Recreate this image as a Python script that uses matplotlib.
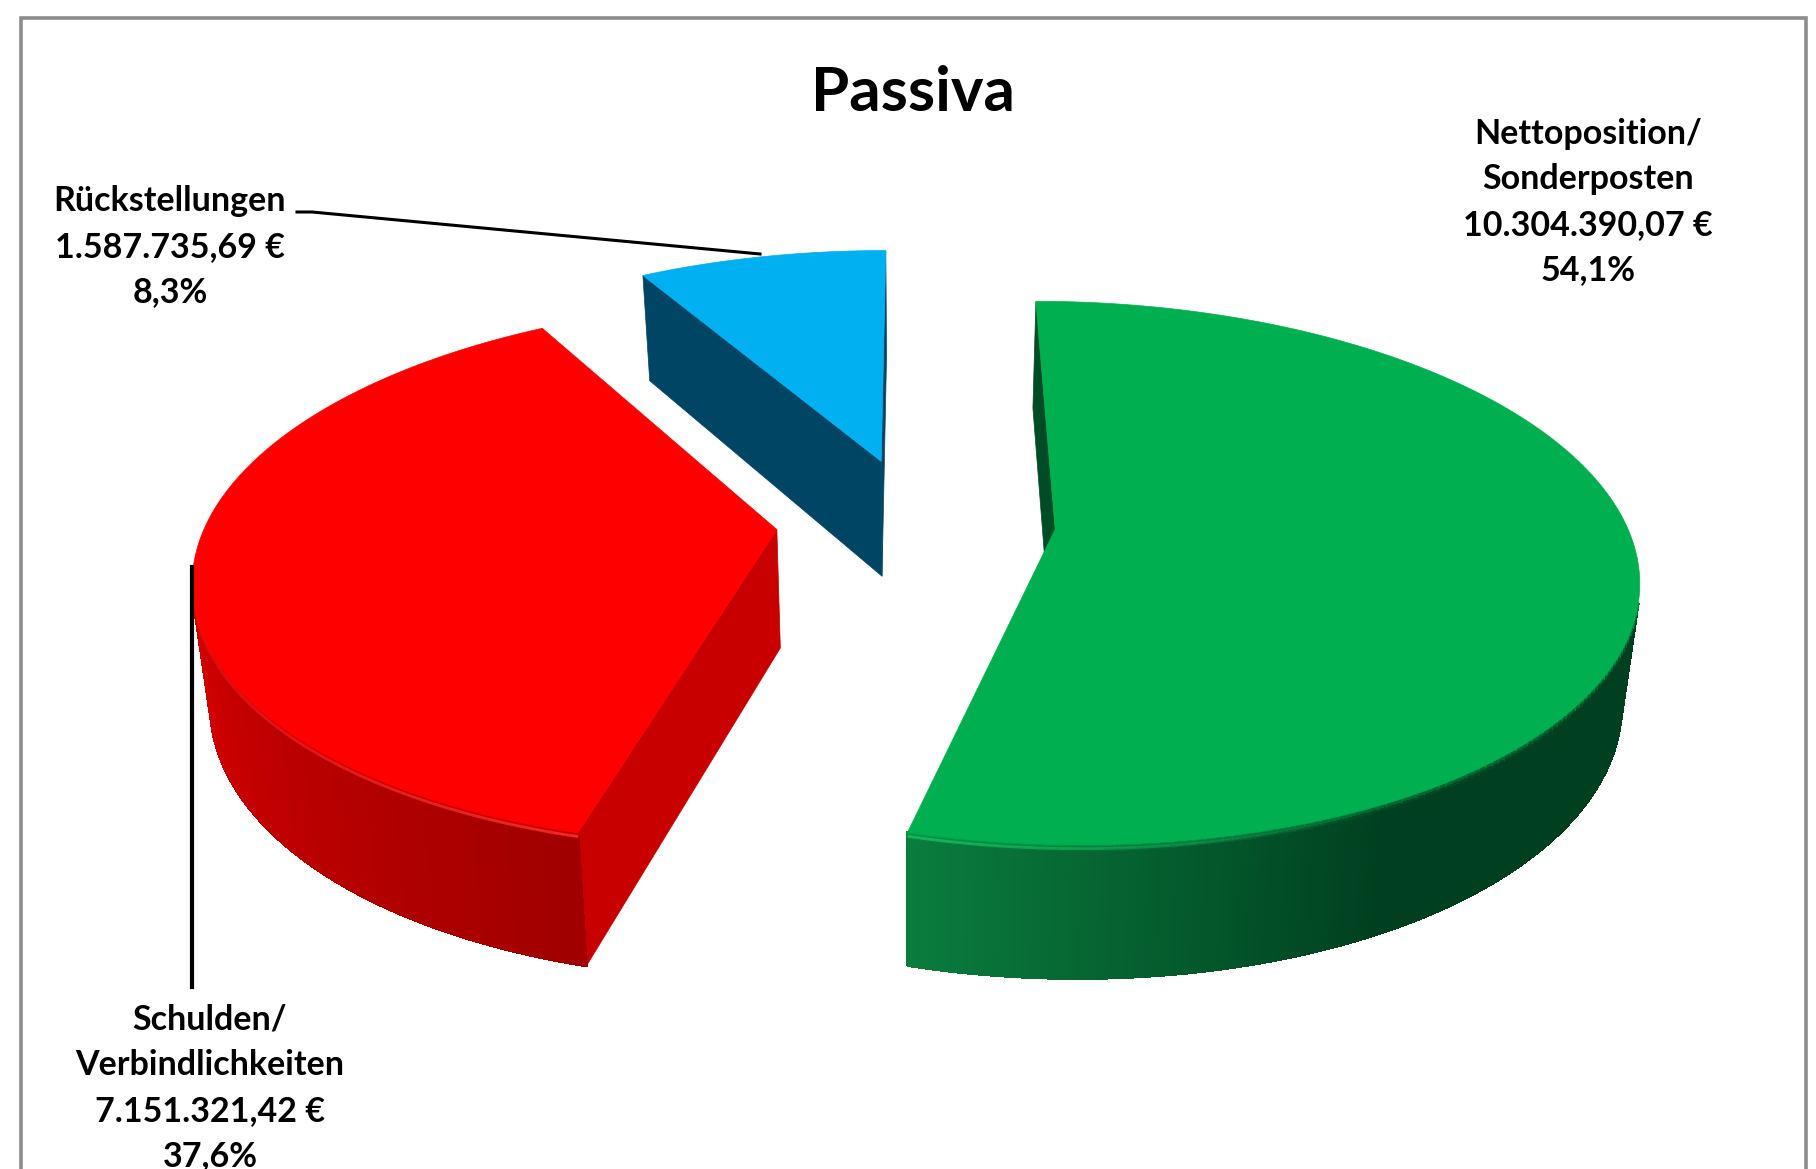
import numpy as np
import matplotlib
matplotlib.use("Agg")
import matplotlib.pyplot as plt
from matplotlib.collections import PolyCollection, LineCollection
from matplotlib.patches import Polygon

plt.rcParams['font.family'] = ['Lato', 'DejaVu Sans']

# data
names = ["Nettoposition", "Schulden", "Rückstellungen"]
values = [10304390.07, 7151321.42, 1587735.69]
labels = ["Nettoposition/\nSonderposten\n10.304.390,07 €\n54,1%",
          "Schulden/\nVerbindlichkeiten\n7.151.321,42 €\n37,6%",
          "Rückstellungen\n1.587.735,69 €\n8,3%"]
top_colors = ["#00B050", "#FF0000", "#00B0F0"]
face_colors = ["#004D25", "#C80000", "#004664"]
rim_light = ["#0A7D3E", "#E00000", "#007FB0"]
rim_dark = ["#004020", "#A00000", "#004664"]
shine = ["#14C662", "#FF3535", "#30C8FF"]

# view of the pie, in pixels
cx, cy = 916, 521
A, B = 570, 262
persp = 0.16
explode = 0.245
height = 118
shrink = 0.975
start = 90.0


def project(x, y, z=0.0):
    w = 1 + persp * y
    sx = cx + A * x / w
    sx = cx + (sx - cx) * (1 - (1 - shrink) * z)
    sy = cy - B * y / w + height * z / w ** 0.7
    return sx, sy


def area(pts):
    p = np.array(pts)
    return 0.5 * np.sum(p[:, 0] * np.roll(p[:, 1], -1) - np.roll(p[:, 0], -1) * p[:, 1])


def mix(c1, c2, t):
    a = np.array(matplotlib.colors.to_rgb(c1))
    b = np.array(matplotlib.colors.to_rgb(c2))
    return tuple(a + (b - a) * t)


fig = plt.figure(figsize=(18.16, 11.69), dpi=100)
ax = fig.add_axes([0, 0, 1, 1])
ax.set_xlim(0, 1816)
ax.set_ylim(1169, 0)
ax.axis('off')

# frame, runs off the bottom
ax.plot([21, 21, 1806, 1806], [1175, 18, 18, 1175], color="#8C8C8C", lw=2.6, solid_joinstyle='miter')

total = sum(values)
sweeps = [v / total * 360 for v in values]
a0s = start - np.cumsum([0] + sweeps[:-1])
z_levels = [0, 0.02, 0.04, 0.06, 1]

for i in [2, 1, 0]:
    a0 = a0s[i]
    a1 = a0 - sweeps[i]
    mid = np.radians((a0 + a1) / 2)
    ox, oy = explode * np.cos(mid), explode * np.sin(mid)
    th = np.radians(np.linspace(a0, a1, 241))
    rx = ox + np.cos(th)
    ry = oy + np.sin(th)
    deg = np.degrees(th)

    # radial faces, back ones dropped
    for t, sign in [(th[0], 1), (th[-1], -1)]:
        ex, ey = ox + np.cos(t), oy + np.sin(t)
        quad = [project(ox, oy), project(ex, ey), project(ex, ey, 1), project(ox, oy, 1)]
        if area(quad) * sign < 0:
            ax.add_patch(Polygon(quad, closed=True, fc=face_colors[i], ec=face_colors[i], lw=0.5, zorder=2 + (2 - i) * 3))

    # angle away from the cut end that faces the viewer
    if i == 0:
        near = deg - a1
        shade = np.interp(near, [0, 42, 400], [0, 1, 1])
    else:
        near = a0 - deg
        shade = np.interp(near, [0, 75], [1, 0])

    # rim strips with a soft edge at the top
    polys, cols = [], []
    for k in range(len(th) - 1):
        col = mix(rim_light[i], rim_dark[i], shade[k])
        for z0, z1 in zip(z_levels[:-1], z_levels[1:]):
            q = [project(rx[k], ry[k], z0), project(rx[k + 1], ry[k + 1], z0),
                 project(rx[k + 1], ry[k + 1], z1), project(rx[k], ry[k], z1)]
            if area(q) > 0:
                continue
            f = 1 - (z1 / 0.06) if z1 < 1 else 0
            polys.append(q)
            cols.append(mix(col, top_colors[i], 0.75 * f + 0.1 * (z1 < 1)))
    if polys:
        ax.add_collection(PolyCollection(polys, facecolors=cols, edgecolors=cols, lw=1.2, antialiaseds=False,
                                         zorder=3 + (2 - i) * 3))

    # highlight along the front edge, fades away from the cut end
    sx, sy = project(rx, ry, 0.03)
    segs = [[(sx[k], sy[k]), (sx[k + 1], sy[k + 1])] for k in range(len(th) - 1)]
    if i < 2:
        fade = np.clip(1 - near[:-1] / (40 if i == 0 else 70), 0, 1)
        rgba = [matplotlib.colors.to_rgb(shine[i]) + (fade[k] * 0.8,) for k in range(len(segs))]
        ax.add_collection(LineCollection(segs, colors=rgba, lw=2.0, zorder=5 + (2 - i) * 3))

    # top face
    tx, ty = project(np.r_[ox, rx], np.r_[oy, ry])
    ax.add_patch(Polygon(np.c_[tx, ty], closed=True, fc=top_colors[i], ec=top_colors[i], lw=0.5, zorder=4 + (2 - i) * 3))

# leader lines
ax.plot([297, 312, 760], [212, 212, 254], color="black", lw=2.2, zorder=20)
ax.plot([192, 192], [567, 987], color="black", lw=3, zorder=20)

# texts
txt = dict(ha='center', va='center', fontweight='bold', fontsize=24.5, color='black', linespacing=1.52, zorder=21)
ax.text(913, 93, "Passiva", ha='center', va='center', fontweight='bold', fontsize=44.5, color='black')
ax.text(1588, 202, labels[0], **txt)
ax.text(210, 1088, labels[1], **txt)
ax.text(170, 247, labels[2], **txt)

fig.savefig("out.png", dpi=100)
